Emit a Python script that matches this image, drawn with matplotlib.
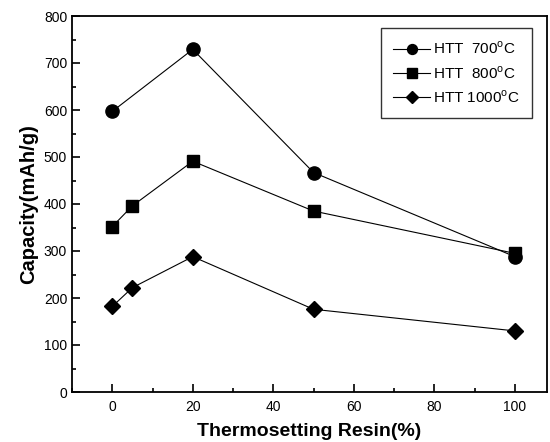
import matplotlib
matplotlib.use("Agg")
import matplotlib.pyplot as plt
from matplotlib.ticker import MultipleLocator

plt.rcParams['font.family'] = ['Liberation Sans', 'DejaVu Sans']
plt.rcParams['mathtext.fontset'] = 'custom'
plt.rcParams['mathtext.rm'] = 'Liberation Sans'

x_700 = [0, 20, 50, 100]
y_700 = [597, 729, 467, 288]
x_800 = [0, 5, 20, 50, 100]
y_800 = [352, 396, 491, 385, 295]
x_1000 = [0, 5, 20, 50, 100]
y_1000 = [182, 222, 288, 176, 130]
labels = [r'HTT  700$^{\mathrm{o}}$C', r'HTT  800$^{\mathrm{o}}$C', r'HTT 1000$^{\mathrm{o}}$C']

fig = plt.figure(figsize=(5.5, 4.42), dpi=100)
ax = fig.add_axes([72/550, 1-392/442, (547-72)/550, (392-16)/442])

ax.plot(x_700, y_700, '-o', color='black', lw=0.8, ms=9.5, label=labels[0])
ax.plot(x_800, y_800, '-s', color='black', lw=0.8, ms=9, label=labels[1])
ax.plot(x_1000, y_1000, '-D', color='black', lw=0.8, ms=8.5, label=labels[2])

ax.set_xlim(-10, 108)
ax.set_ylim(0, 800)
ax.xaxis.set_major_locator(MultipleLocator(20))
ax.xaxis.set_minor_locator(MultipleLocator(10))
ax.yaxis.set_major_locator(MultipleLocator(100))
ax.yaxis.set_minor_locator(MultipleLocator(50))
ax.tick_params(which='both', direction='in', labelsize=10, width=1.2, top=False, right=False)
ax.tick_params(which='major', length=6)
ax.tick_params(which='minor', length=3)
ax.tick_params(axis='x', pad=6)
for s in ax.spines.values():
    s.set_linewidth(1.3)

ax.set_xlabel('Thermosetting Resin(%)', fontsize=14, fontweight='bold', labelpad=6)
ax.set_ylabel('Capacity(mAh/g)', fontsize=14.5, fontweight='bold', labelpad=4)

leg = ax.legend(loc='upper right', bbox_to_anchor=(532/550, 1-28/442), bbox_transform=fig.transFigure,
                fontsize=11, frameon=True, fancybox=False, edgecolor='black', markerscale=0.75,
                handlelength=2.4, handletextpad=0.2, borderpad=0.8, labelspacing=0.5,
                borderaxespad=0)
leg.get_frame().set_linewidth(1.0)

fig.savefig('out.png', dpi=100)
